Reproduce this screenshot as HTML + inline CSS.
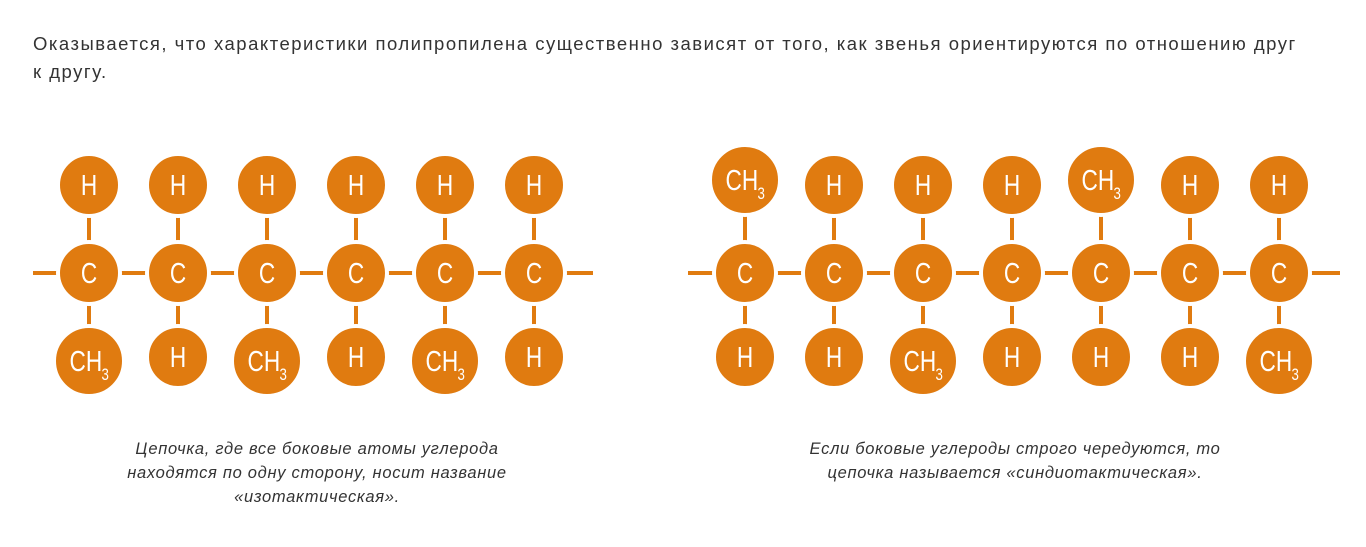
<!DOCTYPE html>
<html><head><meta charset="utf-8"><style>
body{margin:0;width:1366px;height:547px;background:#fff;overflow:hidden;font-family:"Liberation Sans","DejaVu Sans",sans-serif}
.p{position:absolute;left:33px;top:30px;width:1340px;font-size:18.5px;letter-spacing:1.5px;line-height:28px;color:#333;white-space:nowrap}
.c{position:absolute;font-style:italic;font-size:16.5px;letter-spacing:0.7px;line-height:24px;color:#333;text-align:center;white-space:nowrap}
svg text{fill:#fff;font-size:29px;text-anchor:middle}
svg text.s{font-size:17px;text-anchor:start}
</style></head><body>
<div class="p">Оказывается, что характеристики полипропилена существенно зависят от того, как звенья ориентируются по отношению друг<br>к другу.</div>
<svg width="1366" height="547" style="position:absolute;left:0;top:0" font-family="Liberation Sans, sans-serif">
<g stroke="#E07B10" stroke-width="4">
<line x1="33" y1="273" x2="593" y2="273"/>
<line x1="688" y1="273" x2="1340" y2="273"/>
<line x1="89" y1="205" x2="89" y2="340"/><line x1="178" y1="205" x2="178" y2="340"/><line x1="267" y1="205" x2="267" y2="340"/><line x1="356" y1="205" x2="356" y2="340"/><line x1="445" y1="205" x2="445" y2="340"/><line x1="534" y1="205" x2="534" y2="340"/>
<line x1="745" y1="205" x2="745" y2="340"/><line x1="834" y1="205" x2="834" y2="340"/><line x1="923" y1="205" x2="923" y2="340"/><line x1="1012" y1="205" x2="1012" y2="340"/><line x1="1101" y1="205" x2="1101" y2="340"/><line x1="1190" y1="205" x2="1190" y2="340"/><line x1="1279" y1="205" x2="1279" y2="340"/>
</g>
<g fill="#E07B10" stroke="#fff" stroke-width="4">
<circle cx="89" cy="185" r="31"/><circle cx="89" cy="273" r="31"/><circle cx="89" cy="361" r="35"/>
<circle cx="178" cy="185" r="31"/><circle cx="178" cy="273" r="31"/><circle cx="178" cy="357" r="31"/>
<circle cx="267" cy="185" r="31"/><circle cx="267" cy="273" r="31"/><circle cx="267" cy="361" r="35"/>
<circle cx="356" cy="185" r="31"/><circle cx="356" cy="273" r="31"/><circle cx="356" cy="357" r="31"/>
<circle cx="445" cy="185" r="31"/><circle cx="445" cy="273" r="31"/><circle cx="445" cy="361" r="35"/>
<circle cx="534" cy="185" r="31"/><circle cx="534" cy="273" r="31"/><circle cx="534" cy="357" r="31"/>
<circle cx="745" cy="180" r="35"/><circle cx="745" cy="273" r="31"/><circle cx="745" cy="357" r="31"/>
<circle cx="834" cy="185" r="31"/><circle cx="834" cy="273" r="31"/><circle cx="834" cy="357" r="31"/>
<circle cx="923" cy="185" r="31"/><circle cx="923" cy="273" r="31"/><circle cx="923" cy="361" r="35"/>
<circle cx="1012" cy="185" r="31"/><circle cx="1012" cy="273" r="31"/><circle cx="1012" cy="357" r="31"/>
<circle cx="1101" cy="180" r="35"/><circle cx="1101" cy="273" r="31"/><circle cx="1101" cy="357" r="31"/>
<circle cx="1190" cy="185" r="31"/><circle cx="1190" cy="273" r="31"/><circle cx="1190" cy="357" r="31"/>
<circle cx="1279" cy="185" r="31"/><circle cx="1279" cy="273" r="31"/><circle cx="1279" cy="361" r="35"/>
</g>
<g transform="translate(89,195) scale(.78,1)"><text>H</text></g><g transform="translate(89,283) scale(.78,1)"><text>C</text></g><g transform="translate(89,371) scale(.78,1)"><text x="-4">CH</text><text class="s" x="16" y="9">3</text></g>
<g transform="translate(178,195) scale(.78,1)"><text>H</text></g><g transform="translate(178,283) scale(.78,1)"><text>C</text></g><g transform="translate(178,367) scale(.78,1)"><text>H</text></g>
<g transform="translate(267,195) scale(.78,1)"><text>H</text></g><g transform="translate(267,283) scale(.78,1)"><text>C</text></g><g transform="translate(267,371) scale(.78,1)"><text x="-4">CH</text><text class="s" x="16" y="9">3</text></g>
<g transform="translate(356,195) scale(.78,1)"><text>H</text></g><g transform="translate(356,283) scale(.78,1)"><text>C</text></g><g transform="translate(356,367) scale(.78,1)"><text>H</text></g>
<g transform="translate(445,195) scale(.78,1)"><text>H</text></g><g transform="translate(445,283) scale(.78,1)"><text>C</text></g><g transform="translate(445,371) scale(.78,1)"><text x="-4">CH</text><text class="s" x="16" y="9">3</text></g>
<g transform="translate(534,195) scale(.78,1)"><text>H</text></g><g transform="translate(534,283) scale(.78,1)"><text>C</text></g><g transform="translate(534,367) scale(.78,1)"><text>H</text></g>
<g transform="translate(745,190) scale(.78,1)"><text x="-4">CH</text><text class="s" x="16" y="9">3</text></g><g transform="translate(745,283) scale(.78,1)"><text>C</text></g><g transform="translate(745,367) scale(.78,1)"><text>H</text></g>
<g transform="translate(834,195) scale(.78,1)"><text>H</text></g><g transform="translate(834,283) scale(.78,1)"><text>C</text></g><g transform="translate(834,367) scale(.78,1)"><text>H</text></g>
<g transform="translate(923,195) scale(.78,1)"><text>H</text></g><g transform="translate(923,283) scale(.78,1)"><text>C</text></g><g transform="translate(923,371) scale(.78,1)"><text x="-4">CH</text><text class="s" x="16" y="9">3</text></g>
<g transform="translate(1012,195) scale(.78,1)"><text>H</text></g><g transform="translate(1012,283) scale(.78,1)"><text>C</text></g><g transform="translate(1012,367) scale(.78,1)"><text>H</text></g>
<g transform="translate(1101,190) scale(.78,1)"><text x="-4">CH</text><text class="s" x="16" y="9">3</text></g><g transform="translate(1101,283) scale(.78,1)"><text>C</text></g><g transform="translate(1101,367) scale(.78,1)"><text>H</text></g>
<g transform="translate(1190,195) scale(.78,1)"><text>H</text></g><g transform="translate(1190,283) scale(.78,1)"><text>C</text></g><g transform="translate(1190,367) scale(.78,1)"><text>H</text></g>
<g transform="translate(1279,195) scale(.78,1)"><text>H</text></g><g transform="translate(1279,283) scale(.78,1)"><text>C</text></g><g transform="translate(1279,371) scale(.78,1)"><text x="-4">CH</text><text class="s" x="16" y="9">3</text></g>
</svg>
<div class="c" style="left:112px;width:410px;top:437px">Цепочка, где все боковые атомы углерода<br>находятся по одну сторону, носит название<br>«изотактическая».</div>
<div class="c" style="left:790px;width:450px;top:437px">Если боковые углероды строго чередуются, то<br>цепочка называется «синдиотактическая».</div>
</body></html>
